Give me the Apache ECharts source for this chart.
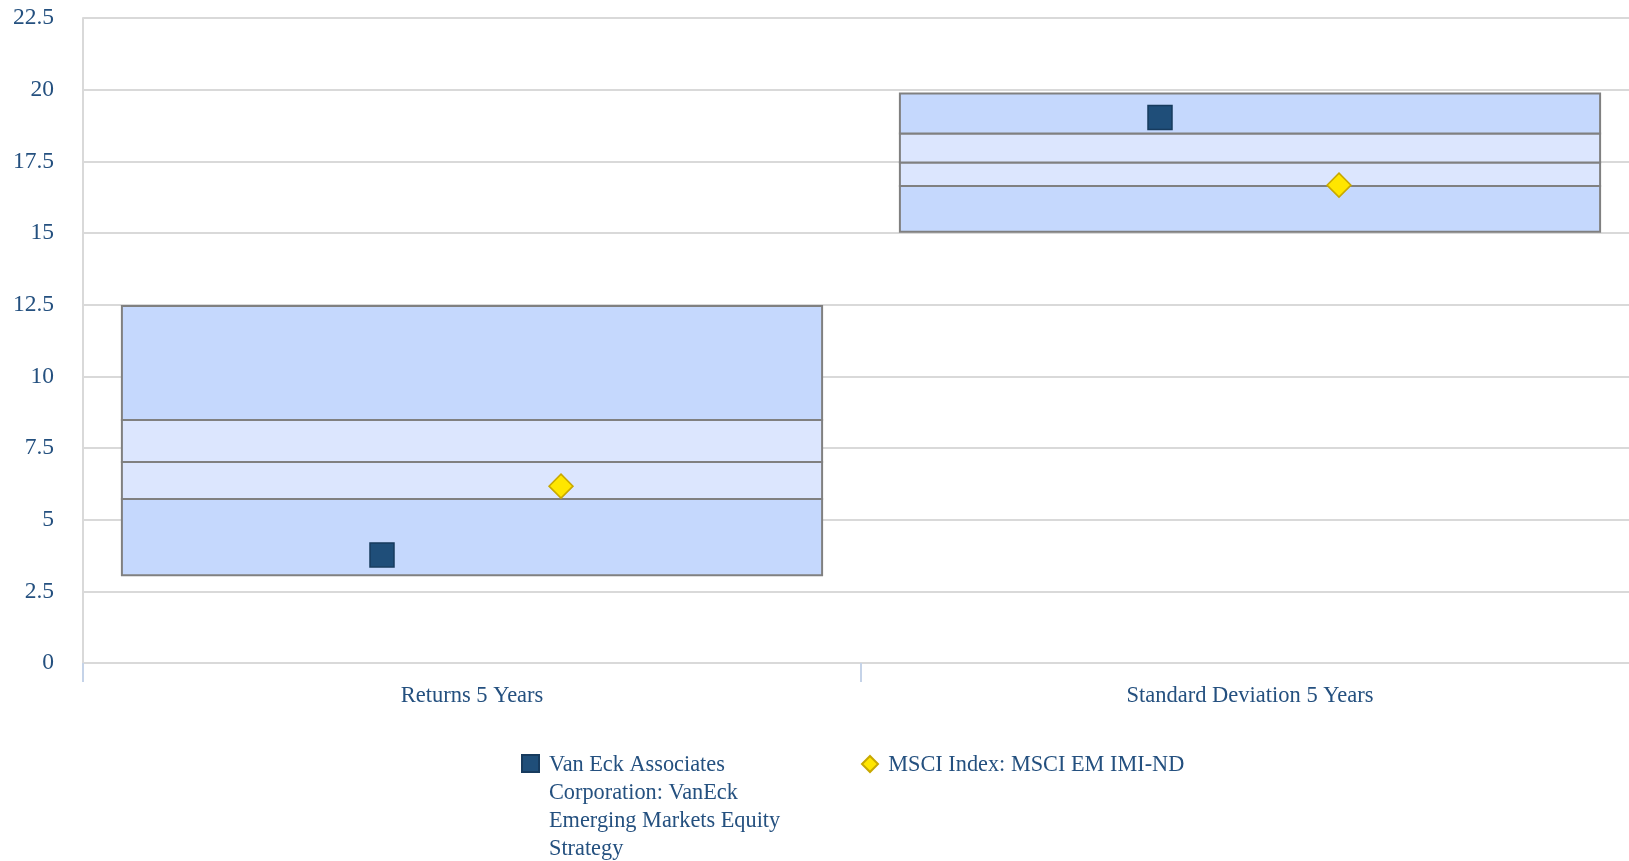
<!DOCTYPE html>
<html>
<head>
<meta charset="utf-8">
<script src="https://cdn.jsdelivr.net/npm/echarts@6/dist/echarts.min.js"></script>
<style>
  html, body { margin: 0; padding: 0; background: #fff; }
  #chart { width: 1629px; height: 861px; }
</style>
</head>
<body>
<div id="chart"></div>
<script>
// categories and values
const categories = ['Returns 5 Years', 'Standard Deviation 5 Years']
// each box: bottom, 75th pct, median, 25th pct, top (bands from low to high)
const boxBottom = [3.06, 15.04]
const boxLower = [5.72, 16.64]
const boxMid = [7.01, 17.46]
const boxUpper = [8.48, 18.47]
const boxTop = [12.45, 19.87]
const fundName = 'Van Eck Associates Corporation: VanEck Emerging Markets Equity Strategy'
const fundValues = [3.77, 19.03]
const indexName = 'MSCI Index: MSCI EM IMI-ND'
const indexValues = [6.17, 16.67]

const textColor = '#24507f'
const fontFamily = '"Liberation Serif", "Times New Roman", serif'

const boxData = categories.map((c, i) => [i, boxBottom[i], boxLower[i], boxMid[i], boxUpper[i], boxTop[i]])

const chart = echarts.init(document.getElementById('chart'))

const renderBox = (params, api) => {
  const idx = api.value(0)
  const vals = [api.value(1), api.value(2), api.value(3), api.value(4), api.value(5)]
  const bandW = api.size([1, 0])[0]
  const w = bandW * 0.9
  const cx = api.coord([idx, 0])[0]
  const x = cx - w / 2
  const fills = ['#c5d8fd', '#dce6fe', '#dce6fe', '#c5d8fd']
  const children = []
  for (let k = 0; k < 4; k++) {
    const yLow = api.coord([idx, vals[k]])[1]
    const yHigh = api.coord([idx, vals[k + 1]])[1]
    children.push({
      type: 'rect',
      shape: { x: x, y: yHigh, width: w, height: yLow - yHigh },
      style: { fill: fills[k], stroke: '#808080', lineWidth: 2 }
    })
  }
  return { type: 'group', children: children }
}

// legend icons are tall so the wrapped legend text starts level with the icon
const squareIcon = 'path://M0,0M0,4h17v17h-17zM0,112'
const diamondIcon = 'path://M0,0M8.5,5L16.5,13L8.5,21L0.5,13zM0,112'

const option = {
  backgroundColor: '#fff',
  animation: false,
  grid: { left: 83, right: -10, top: 18, bottom: 198, outerBoundsMode: 'none' },
  xAxis: {
    type: 'category',
    data: categories,
    boundaryGap: true,
    axisLine: { show: false },
    axisTick: { show: true, length: 19, lineStyle: { color: '#c5d3e8', width: 2 } },
    axisLabel: { color: textColor, fontFamily: fontFamily, fontSize: 22.5, margin: 22 },
    splitLine: { show: false }
  },
  yAxis: {
    type: 'value',
    min: 0,
    max: 22.5,
    interval: 2.5,
    axisLine: { show: true, lineStyle: { color: '#d9d9d9', width: 2 } },
    axisTick: { show: false },
    axisLabel: { color: textColor, fontFamily: fontFamily, fontSize: 23.5, margin: 29 },
    splitLine: { show: true, lineStyle: { color: '#d9d9d9', width: 2 } }
  },
  legend: {
    left: 516,
    top: 745,
    orient: 'horizontal',
    itemWidth: 17,
    itemHeight: 112,
    itemGap: 66.5,
    // pad the one-line label to four lines so it sits on the top line like the wrapped one
    formatter: (name) => (name === indexName ? name + '\n\n\n' : name),
    textStyle: { color: textColor, fontFamily: fontFamily, fontSize: 22.3, lineHeight: 28 },
    data: [
      {
        name: fundName,
        icon: squareIcon,
        textStyle: { width: 245, overflow: 'break', padding: [0, 0, 0, 5] }
      },
      { name: indexName, icon: diamondIcon, textStyle: { padding: [0, 0, 0, 5] } }
    ]
  },
  series: [
    {
      name: 'range',
      type: 'custom',
      renderItem: renderBox,
      encode: { x: 0, y: [1, 2, 3, 4, 5] },
      data: boxData,
      z: 1
    },
    {
      name: fundName,
      type: 'scatter',
      data: fundValues,
      symbol: 'rect',
      symbolSize: 24,
      symbolOffset: [-90, 0],
      itemStyle: { color: '#1f4e79', borderColor: '#173b5e', borderWidth: 1.5, opacity: 1 },
      z: 5
    },
    {
      name: indexName,
      type: 'scatter',
      data: indexValues,
      symbol: 'diamond',
      symbolSize: 24,
      symbolOffset: [89, 0],
      itemStyle: { color: '#ffe600', borderColor: '#c8a800', borderWidth: 1.5, opacity: 1 },
      z: 5
    }
  ]
}

chart.setOption(option)
</script>
</body>
</html>
